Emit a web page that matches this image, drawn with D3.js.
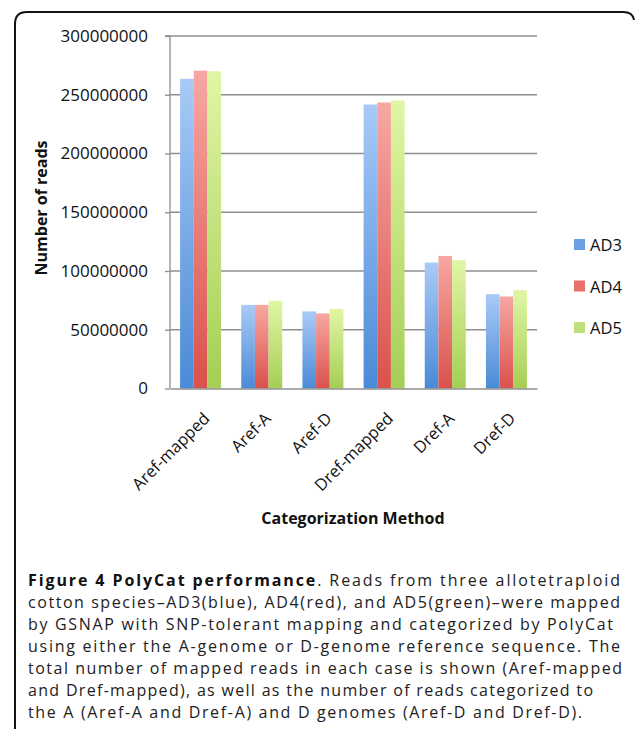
<!DOCTYPE html>
<html><head><meta charset="utf-8">
<script src="https://cdn.jsdelivr.net/npm/d3@7/dist/d3.min.js"></script>
<style>body{margin:0;background:#fff}svg{display:block}</style>
</head><body><svg id="c" width="635" height="729"></svg>
<script>
const categories = ["Aref-mapped","Aref-A","Aref-D","Dref-mapped","Dref-A","Dref-D"];
const seriesNames = ["AD3","AD4","AD5"];
const AD3 = [263500000, 71200000, 65600000, 241700000, 107200000, 80300000];
const AD4 = [270500000, 71200000, 63900000, 243400000, 112800000, 78300000];
const AD5 = [270000000, 74600000, 67800000, 245100000, 109200000, 83700000];
const yTicks = [0, 50000000, 100000000, 150000000, 200000000, 250000000, 300000000];
const captionLines = [
  "cotton species–AD3(blue), AD4(red), and AD5(green)–were mapped",
  "by GSNAP with SNP-tolerant mapping and categorized by PolyCat",
  "using either the A-genome or D-genome reference sequence. The",
  "total number of mapped reads in each case is shown (Aref-mapped",
  "and Dref-mapped), as well as the number of reads categorized to",
  "the A (Aref-A and Dref-A) and D genomes (Aref-D and Dref-D)."
];

const values = [AD3, AD4, AD5];
const svg = d3.select("#c");
const font = "'Open Sans', sans-serif";

// frame (rounded top, open bottom)
svg.append("path")
  .attr("d", "M15,729 L15,24 Q15,12 27,12 L623,12 Q633,12 634,20")
  .attr("fill","none").attr("stroke","#111").attr("stroke-width",2);

const defs = svg.append("defs");
const grads = [["#a9caf7","#4a8ad6"],["#f7a7a3","#da514b"],["#e0f6a5","#a5ce55"]];
grads.forEach((g,i)=>{
  const lg = defs.append("linearGradient").attr("id","g"+i).attr("x1",0).attr("y1",0).attr("x2",0).attr("y2",1);
  lg.append("stop").attr("offset","0%").attr("stop-color",g[0]);
  lg.append("stop").attr("offset","100%").attr("stop-color",g[1]);
});
const legendColors = ["#6a9fe3","#e9716c","#bde27a"];

const x0 = 170, x1 = 537, yTop = 36, yBot = 388.5;
const y = d3.scaleLinear().domain([0,300000000]).range([yBot,yTop]);
const x = d3.scaleBand().domain(categories).range([x0,x1]).paddingInner(0.33).paddingOuter(0.165);
const xs = d3.scaleBand().domain(seriesNames).range([0,x.bandwidth()]);

// gridlines
svg.append("g").selectAll("line").data(yTicks.filter(d=>d>0)).join("line")
  .attr("x1",x0).attr("x2",x1).attr("y1",d=>y(d)).attr("y2",d=>y(d))
  .attr("stroke","#8e8e8e").attr("stroke-width",1.3);

// y axis
const yAxis = d3.axisLeft(y).tickValues(yTicks).tickSize(5).tickPadding(17).tickFormat(d3.format("d"));
const ga = svg.append("g").attr("transform",`translate(${x0},0)`).call(yAxis);
ga.select(".domain").attr("stroke","#8e8e8e").attr("stroke-width",1.3).attr("d",`M-5,${yTop}H0V${yBot}`);
ga.selectAll(".tick line").attr("stroke","#8e8e8e").attr("stroke-width",1.3);
ga.selectAll(".tick text").attr("font-family",font).attr("font-size",17).attr("fill","#111");

// bars
const groups = svg.append("g").selectAll("g").data(categories).join("g")
  .attr("transform",d=>`translate(${x(d)},0)`);
groups.selectAll("rect").data((c,ci)=>seriesNames.map((s,si)=>({s,si,v:values[si][ci]}))).join("rect")
  .attr("x",d=>xs(d.s)).attr("width",xs.bandwidth())
  .attr("y",d=>y(d.v)).attr("height",d=>yBot-y(d.v))
  .attr("fill",d=>`url(#g${d.si})`);

// x axis
const xAxis = d3.axisBottom(x).tickSize(0).tickPadding(10);
const gx = svg.append("g").attr("transform",`translate(0,${yBot})`).call(xAxis);
gx.select(".domain").attr("stroke","#8e8e8e").attr("stroke-width",1.3);
gx.selectAll(".tick text").attr("font-family",font).attr("font-size",16.5).attr("fill","#111")
  .attr("text-anchor","end").attr("dy","0")
  .attr("transform","translate(3,24) rotate(-45)");

// axis titles
svg.append("text").attr("transform","translate(47,208) rotate(-90)")
  .attr("text-anchor","middle").attr("font-family",font).attr("font-weight","bold").attr("font-size",16)
  .attr("fill","#111").text("Number of reads");
svg.append("text").attr("x",353).attr("y",524).attr("text-anchor","middle")
  .attr("font-family",font).attr("font-weight","bold").attr("font-size",16).attr("fill","#111")
  .text("Categorization Method");

// legend
const leg = svg.append("g").selectAll("g").data(seriesNames).join("g")
  .attr("transform",(d,i)=>`translate(574,${245+i*41.5})`);
leg.append("rect").attr("x",0).attr("y",-6).attr("width",11).attr("height",11).attr("fill",(d,i)=>legendColors[i]);
leg.append("text").attr("x",16).attr("y",6).attr("font-family",font).attr("font-size",16.5).attr("fill","#111").text(d=>d);

// caption
const cap = svg.append("g").attr("font-family",font).attr("font-size",16).attr("fill","#222");
const t0 = cap.append("text").attr("x",28).attr("y",586).attr("textLength",592).attr("lengthAdjust","spacing");
t0.append("tspan").attr("font-weight","bold").attr("fill","#111").text("Figure 4 PolyCat performance");
t0.append("tspan").text(". Reads from three allotetraploid");
const widths = [592, 585, 592, 594, 565, 554];
captionLines.forEach((l,i)=>{
  const t = cap.append("text").attr("x",28).attr("y",608+i*22).text(l);
  if (widths[i]) t.attr("textLength",widths[i]).attr("lengthAdjust","spacing");
});
</script></body></html>
